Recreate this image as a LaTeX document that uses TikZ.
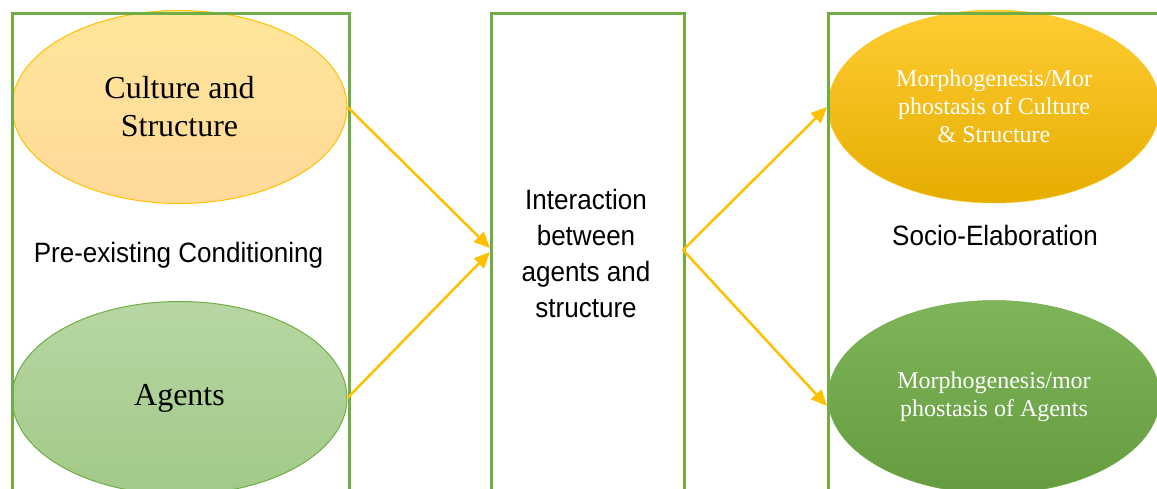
\documentclass[tikz,border=0pt]{standalone}
\usepackage{fontspec}
\setmainfont{Liberation Serif}
\newfontfamily\lsans[FakeStretch=0.93]{Liberation Sans}
\usetikzlibrary{shapes.geometric,arrows.meta}
\definecolor{boxgreen}{HTML}{70AD47}
\definecolor{gold}{HTML}{FFC000}
\begin{document}
\begin{tikzpicture}[x=1pt,y=-1pt,
  frame/.style={draw=boxgreen, line width=2.5pt, rectangle, inner sep=0pt, anchor=north west},
  conn/.style={draw=gold, line width=2.5pt, -{Triangle[length=16pt,width=14pt]}},
  oval/.style={ellipse, inner sep=0pt, minimum width=335pt, minimum height=193pt, align=center},
  serif32/.style={font=\fontsize{32}{38}\selectfont},
  serif24/.style={font=\fontsize{24}{28}\selectfont, text=white},
  lbl/.style={font=\lsans\fontsize{28}{36}\selectfont, align=center, inner sep=0pt}]
\useasboundingbox (0,0) rectangle (1157,488);
\clip (0,0) rectangle (1157,488);
% ellipses
\node[oval, serif32, top color=white!12!gold!45, bottom color=gold!50!orange!40, draw=gold, line width=1pt] (cult) at (179.5,107) {Culture and\\Structure};
\node[oval, serif32, top color=boxgreen!50, bottom color=boxgreen!65, draw=boxgreen, line width=1pt] (agents) at (179.5,398) {Agents};
\node[oval, serif24, top color=gold!80, middle color=gold, bottom color=gold!90!black, draw=gold!85!white, line width=0.5pt, minimum width=332pt] (mcs) at (994,106.5) {Morphogenesis/Mor\\phostasis of Culture\\\& Structure};
\node[oval, serif24, top color=boxgreen!90, bottom color=boxgreen!90!black, draw=boxgreen, line width=0.5pt, minimum width=332pt] (mag) at (994,397) {Morphogenesis/mor\\phostasis of Agents};
% boxes
\node[frame, minimum width=337pt, minimum height=520pt] (lbox) at (11,12) {};
\node[frame, minimum width=193pt, minimum height=520pt] (mbox) at (490,12) {};
\node[frame, minimum width=400pt, minimum height=520pt] (rbox) at (827,12) {};
% labels
\node[lbl] (pre) at (178.5,255) {Pre-existing Conditioning};
\node[lbl] (inter) at (586,253) {Interaction\\between\\agents and\\structure};
\node[lbl] (socio) at (995,235) {Socio-Elaboration};
% connector end points
\coordinate (m1) at (490,248);
\coordinate (m2) at (490,252);
\coordinate (mo) at (683,250);
\coordinate (r1) at (827,107);
\coordinate (r2) at (827,406);
\draw[conn] (cult.east) -- (m1);
\draw[conn] (agents.east) -- (m2);
\draw[conn] (mo) -- (r1);
\draw[conn] (mo) -- (r2);
\end{tikzpicture}
\end{document}
